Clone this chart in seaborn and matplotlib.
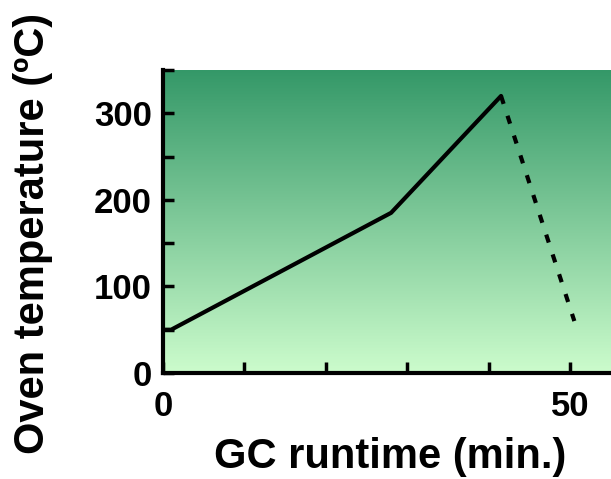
import numpy as np
import matplotlib
matplotlib.use("Agg")
import matplotlib.pyplot as plt
import seaborn as sns
from matplotlib.colors import LinearSegmentedColormap
from matplotlib.ticker import FixedLocator

# oven program (solid = run, dotted = cool-down)
run_time = [0, 1, 28, 41.5]
run_temp = [50, 50, 185, 320]
cool_time = [41.5, 50.5]
cool_temp = [320, 60]

sns.set_style("ticks")
plt.rcParams["font.family"] = ["Liberation Sans", "DejaVu Sans"]
plt.rcParams["font.weight"] = "bold"
plt.rcParams["text.color"] = "black"
plt.rcParams["axes.labelcolor"] = "black"
plt.rcParams["axes.edgecolor"] = "black"
plt.rcParams["xtick.color"] = "black"
plt.rcParams["ytick.color"] = "black"

fig = plt.figure(figsize=(6.11, 4.79), dpi=100)
ax = fig.add_axes([0.2668, 0.2213, 0.7332, 0.6326])

# gradient background
cmap = LinearSegmentedColormap.from_list("bg", ["#ccfccc", "#349868"])
grad = np.linspace(0, 1, 256).reshape(-1, 1)
ax.imshow(grad, cmap=cmap, aspect="auto", extent=[0, 55, 0, 350],
          origin="lower", zorder=0)

sns.lineplot(x=run_time, y=run_temp, ax=ax, color="black", lw=3, zorder=3)
sns.lineplot(x=cool_time, y=cool_temp, ax=ax, color="black", lw=3,
             linestyle=(0, (2, 3)), zorder=3)

ax.set_xlim(0, 55)
ax.set_ylim(0, 350)
ax.xaxis.set_major_locator(FixedLocator([0, 50]))
ax.xaxis.set_minor_locator(FixedLocator([10, 20, 30, 40]))
ax.yaxis.set_major_locator(FixedLocator([0, 100, 200, 300]))
ax.yaxis.set_minor_locator(FixedLocator([50, 150, 250, 350]))

for s in ["top", "right"]:
    ax.spines[s].set_visible(False)
for s in ["left", "bottom"]:
    ax.spines[s].set_linewidth(3)

ax.tick_params(which="both", direction="in", width=2.5, length=8,
               labelsize=25, color="black")
ax.tick_params(axis="x", which="major", pad=12)
ax.tick_params(axis="y", which="major", pad=8)
for lab in ax.get_xticklabels() + ax.get_yticklabels():
    lab.set_fontweight("bold")

ax.set_xlabel("GC runtime (min.)", fontsize=30, fontweight="bold")
ax.set_ylabel("Oven temperature (ºC)", fontsize=30, fontweight="bold")
ax.xaxis.set_label_coords(0.507, -0.212)
ax.yaxis.set_label_coords(-0.245, 0.462)

fig.savefig("out.png", dpi=100)
